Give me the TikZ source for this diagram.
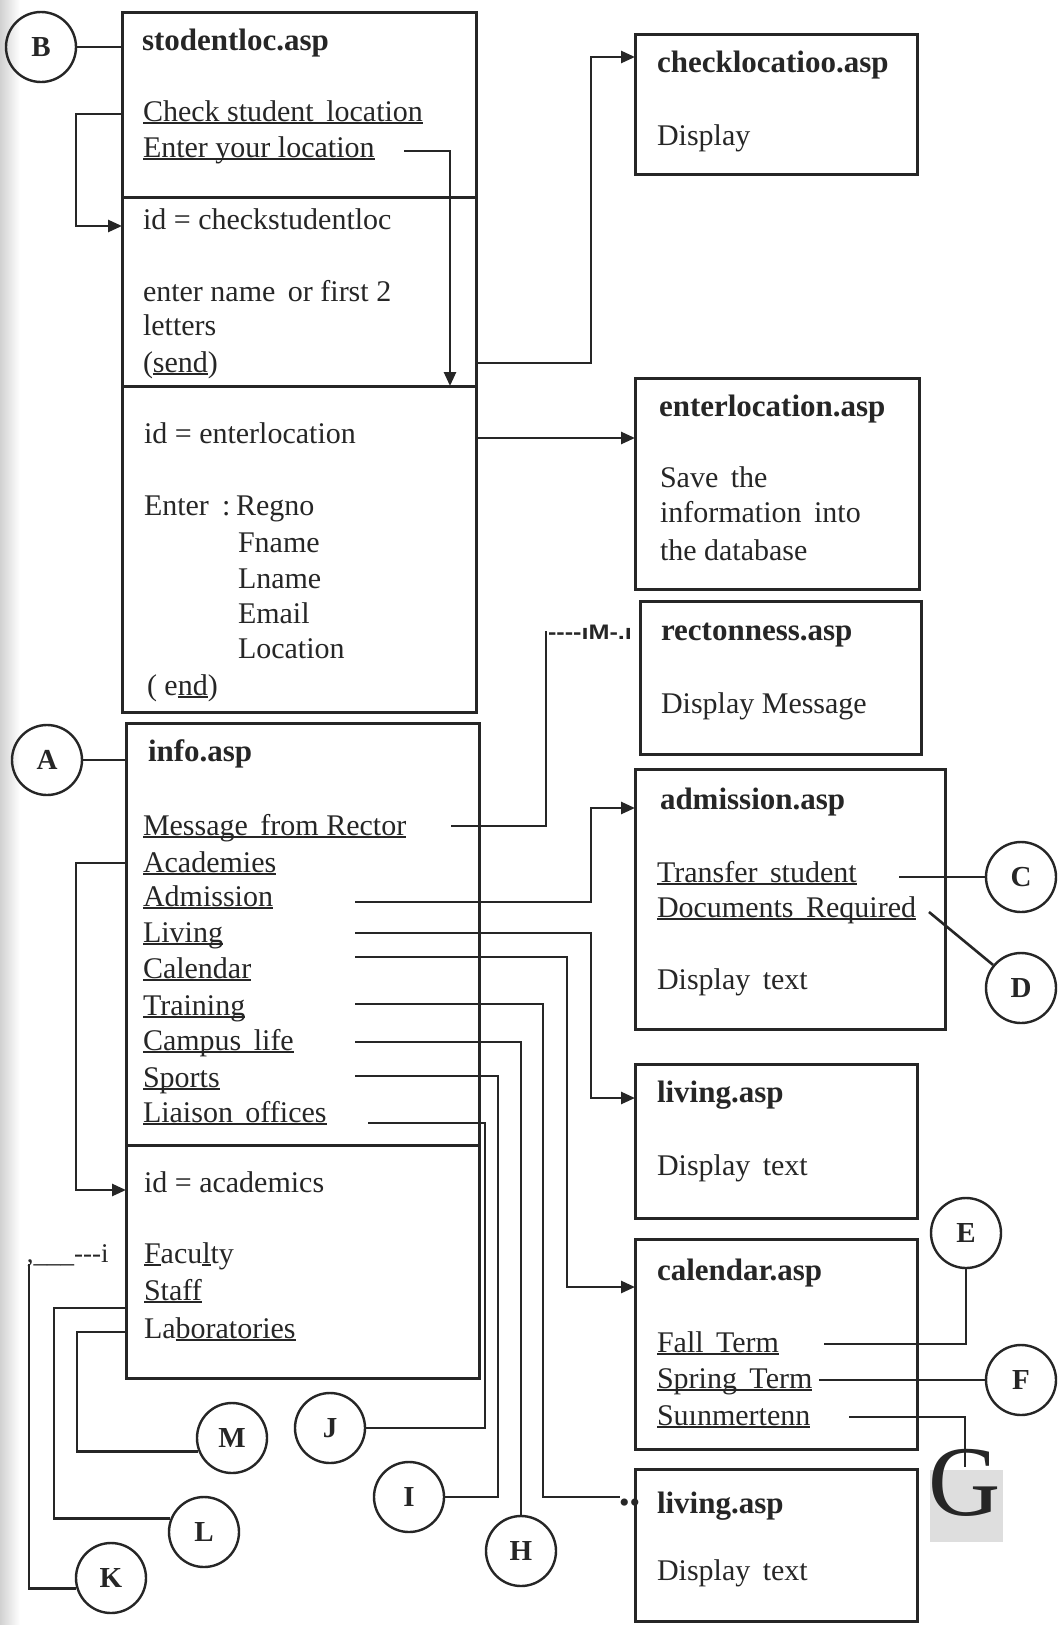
\documentclass[tikz,border=0pt]{standalone}
\usepackage{fontspec}
\setmainfont{Liberation Serif}
\newfontfamily\scanjunk{Liberation Sans}[FakeStretch=1.2]
\usetikzlibrary{arrows.meta}
% underline at a fixed depth below the baseline
\newcommand\undl[1]{\setbox0\hbox{#1}\rlap{\rule[-3pt]{\wd0}{1.8pt}}\box0}
\definecolor{ink}{gray}{0.15}
\begin{document}
\begin{tikzpicture}[x=1pt,y=-1pt,
  font=\fontsize{30}{36}\selectfont,
  every node/.style={text=ink},
  pagebox/.style={draw=ink, line width=3pt, inner sep=0pt, outer sep=0pt, anchor=north west},
  link/.style={draw=ink, line width=2.6pt},
  arr/.style={link, -{Triangle[length=14pt,width=12pt]}},
  tag/.style={draw=ink, circle, line width=2.4pt, minimum size=70pt, inner sep=0pt,
    font=\fontsize{29}{29}\selectfont\bfseries},
  txt/.style={anchor=base west, inner sep=0pt, outer sep=0pt},
  ttl/.style={txt, font=\fontsize{31}{36}\selectfont\bfseries}]

\fill[white] (0,0) rectangle (1060,1625);
\useasboundingbox (0,0) rectangle (1060,1625);
\shade[left color=black!18, right color=white] (0,0) rectangle (20,1625);

% ---------- left column: stodentloc.asp ----------
\node[pagebox, minimum width=354pt, minimum height=185pt] (sec1) at (122,12) {};
\node[pagebox, minimum width=354pt, minimum height=189pt] (sec2) at (122,197) {};
\node[pagebox, minimum width=354pt, minimum height=326pt] (sec3) at (122,386) {};

\node[ttl] (tStod) at (142,50) {stodentloc.asp};
\node[txt] (tChk) at (143,121) {\undl{Check student\, location}};
\node[txt] (tEnt) at (143,157) {\undl{Enter your location}};

\node[txt] (tIdChk) at (143,229) {id = checkstudentloc};
\node[txt] (tName) at (143,301) {enter name\, or first 2};
\node[txt] (tLet) at (143,335) {letters};
\node[txt] (tSend) at (143,372) {(\undl{send})};

\node[txt] (tIdEnl) at (144,443) {id = enterlocation};
\node[txt] (tEnter) at (144,515) {Enter};
\node[txt] (tColon) at (222,515) {:};
\node[txt] (tRegno) at (236,515) {Regno};
\node[txt] (tFn) at (238,552) {Fname};
\node[txt] (tLn) at (238,588) {Lname};
\node[txt] (tEm) at (238,623) {Email};
\node[txt] (tLoc) at (238,658) {Location};
\node[txt] (tEnd) at (147,695) {( e\undl{nd})};

% ---------- left column: info.asp ----------
\node[pagebox, minimum width=353pt, minimum height=422pt] (info) at (126,723) {};
\node[pagebox, minimum width=353pt, minimum height=233pt] (acad) at (126,1145) {};

\node[ttl] (tInfo) at (148,761) {info.asp};
\node[txt] (tMsg) at (143,835) {\undl{Message\, from Rector}};
\node[txt] (tAca) at (143,872) {\undl{Academies}};
\node[txt] (tAdm) at (143,906) {\undl{Admission}};
\node[txt] (tLiv) at (143,942) {\undl{Living}};
\node[txt] (tCal) at (143,978) {\undl{Calendar}};
\node[txt] (tTrn) at (143,1015) {\undl{Training}};
\node[txt] (tCmp) at (143,1050) {\undl{Campus\, life}};
\node[txt] (tSpo) at (143,1087) {\undl{Sports}};
\node[txt] (tLia) at (143,1122) {\undl{Liaison\, offices}};

\node[txt] (tIdAca) at (144,1192) {id = academics};
\node[txt] (tFac) at (144,1263) {\undl{F}acu\undl{l}ty};
\node[txt] (tStf) at (144,1300) {\undl{Staff}};
\node[txt] (tLab) at (144,1338) {La\undl{boratories}};

% ---------- right column pages ----------
\node[pagebox, minimum width=282pt, minimum height=140pt] (chk) at (635,34) {};
\node[ttl] (tChkT) at (657,72) {checklocatioo.asp};
\node[txt] (tChkD) at (657,145) {Display};

\node[pagebox, minimum width=284pt, minimum height=211pt] (enl) at (635,378) {};
\node[ttl] (tEnlT) at (659,416) {enterlocation.asp};
\node[txt] (tEnl1) at (660,487) {Save\, the};
\node[txt] (tEnl2) at (660,522) {information\, into};
\node[txt] (tEnl3) at (660,560) {the database};

\node[pagebox, minimum width=281pt, minimum height=153pt] (rec) at (640,601) {};
\node[ttl] (tRecT) at (661,640) {rectonness.asp};
\node[txt] (tRecD) at (661,713) {Display Message};

\node[pagebox, minimum width=310pt, minimum height=260pt] (adm) at (635,769) {};
\node[ttl] (tAdmT) at (660,809) {admission.asp};
\node[txt] (tTrf) at (657,882) {\undl{Transfer\, student}};
\node[txt] (tDoc) at (657,917) {\undl{Documents\, Required}};
\node[txt] (tAdmD) at (657,989) {Display\, text};

\node[pagebox, minimum width=282pt, minimum height=154pt] (liv) at (635,1064) {};
\node[ttl] (tLivT) at (657,1102) {living.asp};
\node[txt] (tLivD) at (657,1175) {Display\, text};

\node[pagebox, minimum width=282pt, minimum height=210pt] (cal) at (635,1239) {};
\node[ttl] (tCalT) at (657,1280) {calendar.asp};
\node[txt] (tFall) at (657,1352) {\undl{Fall\, Term}};
\node[txt] (tSpr) at (657,1388) {\undl{Spring\, Term}};
\node[txt] (tSum) at (657,1425) {\undl{Suınmertenn}};

\node[pagebox, minimum width=282pt, minimum height=152pt] (livb) at (635,1469) {};
\node[ttl] (tLivbT) at (657,1513) {living.asp};
\node[txt] (tLivbD) at (657,1580) {Display\, text};

% ---------- lettered connectors ----------
\node[tag] (B) at (41,47) {B};
\node[tag] (A) at (47,760) {A};
\node[tag] (C) at (1021,877) {C};
\node[tag] (D) at (1021,988) {D};
\node[tag] (E) at (966,1233) {E};
\node[tag] (F) at (1021,1380) {F};
\node[tag] (M) at (232,1438) {M};
\node[tag] (J) at (330,1428) {J};
\node[tag] (I) at (409,1497) {I};
\node[tag] (L) at (204,1532) {L};
\node[tag] (H) at (521,1551) {H};
\node[tag] (K) at (111,1578) {K};

% ---------- connectors ----------
\draw[link] (B) -- (B -| sec1.west);
\draw[link] (A) -- (A -| info.west);

\coordinate (chkL) at (122,114);
\coordinate (chkIn) at (122,226);
\draw[arr] (chkL) -- ++(-46,0) |- (chkIn);

\coordinate (eylS) at (404,151);
\coordinate (eylE) at (450,386);
\draw[arr] (eylS) -| (eylE);

\coordinate (s2R) at (476,363);
\coordinate (chkIn2) at (635,57);
\draw[arr] (s2R) -- ++(115,0) |- (chkIn2);

\coordinate (s3R) at (476,438);
\draw[arr] (s3R) -- (s3R -| enl.west);

\coordinate (acL) at (126,863);
\coordinate (acIn) at (126,1190);
\draw[arr] (acL) -- ++(-50,0) |- (acIn);

\coordinate (msgS) at (451,826);
\coordinate (msgT) at (546,631);
\draw[link] (msgS) -| (msgT);
\node[txt, font=\scanjunk\bfseries\fontsize{21}{21}\selectfont] (junkM) at (548,639) {{-}{-}{-}{-}ıM{-}.ı};

\coordinate (admS) at (355,902);
\coordinate (admIn) at (635,808);
\draw[arr] (admS) -- ++(236,0) |- (admIn);

\coordinate (livS) at (355,933);
\coordinate (livIn) at (635,1098);
\draw[arr] (livS) -- ++(236,0) |- (livIn);

\coordinate (calS) at (355,957);
\coordinate (calIn) at (635,1287);
\draw[arr] (calS) -- ++(212,0) |- (calIn);

\coordinate (trnS) at (355,1004);
\coordinate (trnE) at (620,1497);
\draw[link] (trnS) -- ++(188,0) |- (trnE);
\node[txt] (dots) at (619,1512) {••};

\coordinate (cmpS) at (355,1042);
\draw[link] (cmpS) -| (H.north);

\coordinate (spS) at (355,1076);
\draw[link] (spS) -- ++(143,0) |- (I.east);

\coordinate (liaS) at (368,1123);
\draw[link] (liaS) -- ++(117,0) |- (J.east);

\coordinate (stfS) at (126,1308);
\draw[link] (stfS) -- ++(-72,0) |- (L.158);

\coordinate (labS) at (126,1332);
\draw[link] (labS) -- ++(-49,0) |- (M.202);

\node[txt, font=\fontsize{27}{27}\selectfont] (junkK) at (27,1262) {,\_\_\_{-}{-}{-}i};
\coordinate (kTop) at (29,1264);
\draw[link] (kTop) |- (K.197);

\coordinate (trS) at (899,877);
\draw[link] (trS) -- (C);
\coordinate (docS) at (929,912);
\draw[link] (docS) -- (D);

\coordinate (fallS) at (824,1344);
\draw[link] (fallS) -| (E.south);
\coordinate (sprS) at (819,1380);
\draw[link] (sprS) -- (F);
\coordinate (sumS) at (849,1417);
\coordinate (gEnd) at (965,1467);
\draw[link] (sumS) -| (gEnd);

\fill[black!13] (930,1470) rectangle (1003,1542);
\node[txt, font=\fontsize{100}{100}\selectfont] (G) at (928,1515) {G};
\end{tikzpicture}
\end{document}
